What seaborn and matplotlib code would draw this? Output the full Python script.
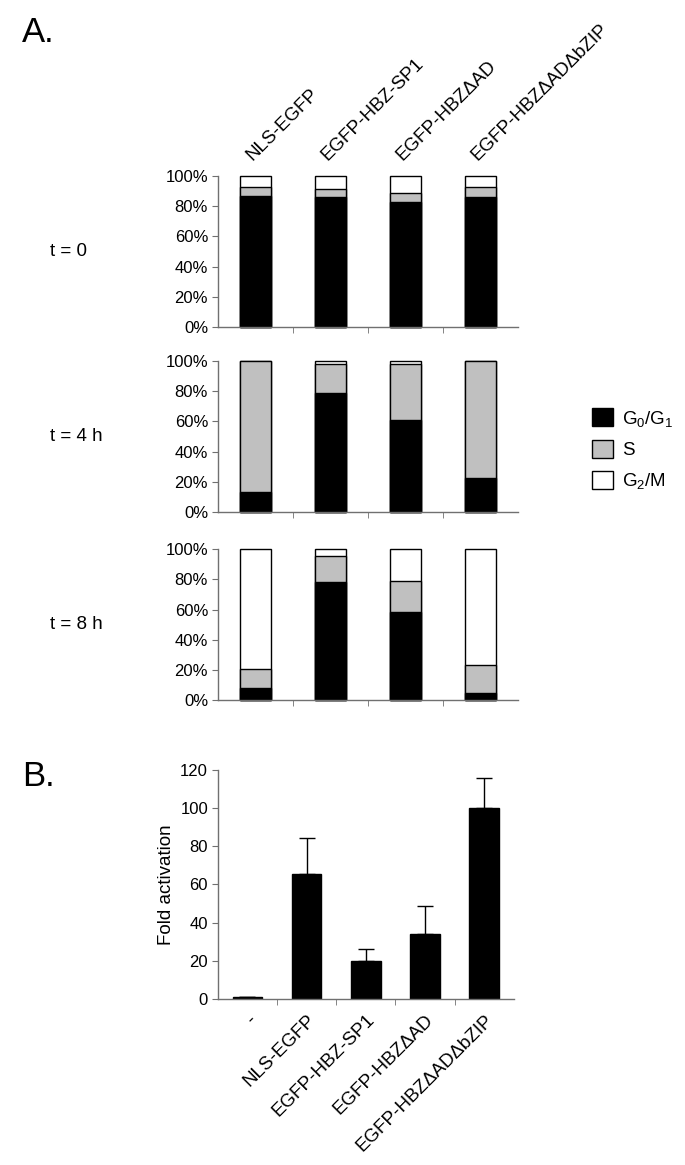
import numpy as np
import seaborn as sns
import matplotlib.pyplot as plt
from matplotlib.patches import Patch

# data
constructs = ['NLS-EGFP', 'EGFP-HBZ-SP1', 'EGFP-HBZΔAD', 'EGFP-HBZΔADΔbZIP']
timepoints = ['t = 0', 't = 4 h', 't = 8 h']
# percent of cells in each phase (G2/M is the remainder up to 100%)
g0g1_t0 = [87, 86, 83, 86]
s_t0 = [5.5, 5.6, 5.5, 6.5]
g0g1_t4 = [13.5, 79, 61, 22.7]
s_t4 = [86.5, 19, 37, 77.0]
g0g1_t8 = [8, 78.4, 58.5, 5]
s_t8 = [12.5, 17.2, 20.5, 18.6]

b_labels = ['-', 'NLS-EGFP', 'EGFP-HBZ-SP1', 'EGFP-HBZΔAD', 'EGFP-HBZΔADΔbZIP']
fold = [1.2, 65.5, 20, 34, 100]
fold_err = [0, 19, 6, 14.7, 16]

sns.set_style('ticks')
plt.rcParams['font.family'] = ['Liberation Sans', 'DejaVu Sans']
plt.rcParams['mathtext.default'] = 'regular'
plt.rcParams['text.color'] = 'black'
plt.rcParams['axes.labelcolor'] = 'black'
axis_grey = '#707070'
s_grey = '#c0c0c0'
fs = 12
fs_big = 13.5

fig = plt.figure(figsize=(6.85, 11.65), dpi=100)

def style_axes(ax):
    sns.despine(ax=ax)
    for side in ['left', 'bottom']:
        ax.spines[side].set_color(axis_grey)
        ax.spines[side].set_linewidth(1)
    ax.tick_params(axis='y', length=4, color=axis_grey, labelcolor='black',
                   labelsize=fs, pad=3)
    ax.tick_params(axis='x', which='major', length=0, labelcolor='black',
                   labelsize=fs_big)
    ax.tick_params(axis='x', which='minor', length=4, color=axis_grey,
                   bottom=True, top=False)

# panel A: cell cycle distribution
tops = [0.7193, 0.5605, 0.399]
phase_data = [(g0g1_t0, s_t0), (g0g1_t4, s_t4), (g0g1_t8, s_t8)]
for i, (g, s) in enumerate(phase_data):
    ax = fig.add_axes([0.318, tops[i], 0.438, 0.1296])
    gs = [a + b for a, b in zip(g, s)]
    sns.barplot(x=constructs, y=[100] * 4, color='white', edgecolor='black',
                linewidth=1, width=0.41, saturation=1, errorbar=None, ax=ax)
    sns.barplot(x=constructs, y=gs, color=s_grey, edgecolor='black',
                linewidth=1, width=0.41, saturation=1, errorbar=None, ax=ax)
    sns.barplot(x=constructs, y=g, color='black', edgecolor='black',
                linewidth=1, width=0.41, saturation=1, errorbar=None, ax=ax)
    for p in ax.patches:
        p.set_clip_on(False)
    ax.set_xlim(-0.5, 3.5)
    ax.set_ylim(0, 100)
    ax.set_yticks(range(0, 101, 20))
    ax.set_yticklabels([f'{v}%' for v in range(0, 101, 20)])
    ax.set_xticks(np.arange(0.5, 3.5, 1), minor=True)
    ax.set_xlabel('')
    ax.set_ylabel('')
    style_axes(ax)
    ax.set_xticks(range(4))
    if i == 0:
        ax.tick_params(axis='x', which='major', top=True, labeltop=True,
                       bottom=False, labelbottom=False, pad=9)
        ax.set_xticklabels(constructs, rotation=45, ha='left', rotation_mode='anchor')
    else:
        ax.set_xticklabels([])
    fig.text(50 / 685, tops[i] + 0.1296 / 2, timepoints[i], fontsize=fs_big,
             ha='left', va='center')

handles = [Patch(facecolor='black', edgecolor='black'),
           Patch(facecolor=s_grey, edgecolor='black'),
           Patch(facecolor='white', edgecolor='black')]
fig.legend(handles, ['G$_0$/G$_1$', 'S', 'G$_2$/M'], loc='upper left',
           bbox_to_anchor=(0.84, 0.664), frameon=False, fontsize=fs_big,
           handlelength=1.1, handleheight=1.1, handletextpad=0.5, labelspacing=0.6)

fig.text(22 / 685, 1 - 33 / 1165, 'A.', fontsize=25, ha='left', va='center')
fig.text(22 / 685, 1 - 777 / 1165, 'B.', fontsize=25, ha='left', va='center')

# panel B: fold activation
axb = fig.add_axes([0.318, 0.1425, 0.432, 0.1966])
sns.barplot(x=b_labels, y=fold, color='black', edgecolor='black', linewidth=1,
            width=0.5, saturation=1, errorbar=None, ax=axb)
axb.errorbar(range(len(fold)), fold, yerr=[np.zeros(len(fold)), fold_err],
             fmt='none', ecolor='black', elinewidth=1, capsize=5.5, capthick=1)
axb.set_xlim(-0.5, 4.5)
axb.set_ylim(0, 120)
axb.set_yticks(range(0, 121, 20))
axb.set_xticks(np.arange(0.5, 4.5, 1), minor=True)
axb.set_xticks(range(5))
axb.set_xticklabels(b_labels, rotation=45, ha='right', rotation_mode='anchor')
axb.set_xlabel('')
axb.set_ylabel('Fold activation', fontsize=fs_big, labelpad=4)
style_axes(axb)
axb.tick_params(axis='x', which='major', pad=9)

fig.savefig('out.png', dpi=100)
